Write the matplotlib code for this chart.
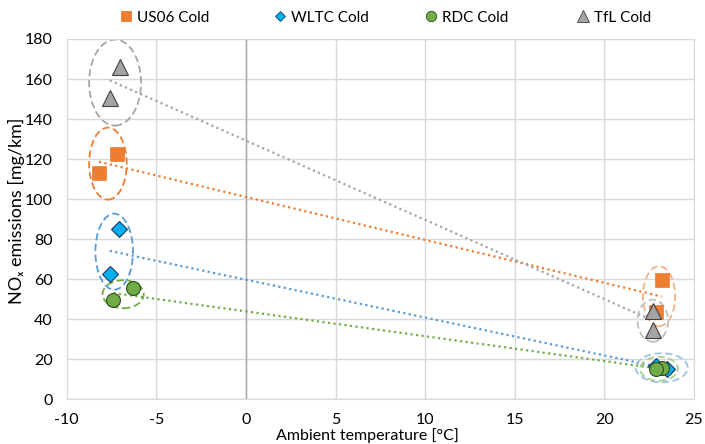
import numpy as np
import matplotlib
matplotlib.use("Agg")
import matplotlib.pyplot as plt
from matplotlib.patches import Ellipse

plt.rcParams['font.family'] = ['Lato', 'DejaVu Sans']
plt.rcParams['axes.unicode_minus'] = False

# Data: ambient temperature (°C) and NOx emissions (mg/km)
us06_t = [-7.2, -8.2, 23.2, 22.9]
us06_v = [122.5, 113.0, 59.5, 43.5]
wltc_t = [-7.1, -7.6, 23.5, 22.9]
wltc_v = [85.0, 62.5, 15.0, 16.5]
rdc_t = [-6.3, -7.4, 23.2, 22.9]
rdc_v = [55.5, 49.5, 15.5, 15.0]
tfl_t = [-7.0, -7.6, 22.7, 22.7]
tfl_v = [166.0, 150.5, 44.0, 34.5]

labels = ["US06 Cold", "WLTC Cold", "RDC Cold", "TfL Cold"]
x_ticks = [-10, -5, 0, 5, 10, 15, 20, 25]
y_ticks = [0, 20, 40, 60, 80, 100, 120, 140, 160, 180]

W, H = 705, 444
fig = plt.figure(figsize=(W / 100, H / 100), dpi=100)
ax = fig.add_axes([66.7 / W, 1 - 399.3 / H, (694 - 66.7) / W, (399.3 - 39) / H])

series = [
    (us06_t, us06_v, dict(marker='s', color='#ED7D31', ms=10, mec='#ED7D31', mew=0.5), '#ED7D31'),
    (wltc_t, wltc_v, dict(marker='D', color='#00B0F0', ms=8, mec='#1F3864', mew=0.8), '#5B9BD5'),
    (rdc_t, rdc_v, dict(marker='o', color='#70AD47', ms=10, mec='#2E4A1E', mew=0.8), '#70AD47'),
    (tfl_t, tfl_v, dict(marker='^', color='#A5A5A5', ms=11, mec='#404040', mew=0.8), '#A5A5A5'),
]

# ellipse sizes (width in °C, height in mg/km) for the cold and warm pair
ell_sizes = {
    0: [(2.1, 36), (1.8, 30)],
    1: [(2.1, 38), (2.9, 14.5)],
    2: [(2.3, 14), (2.1, 12)],
    3: [(2.9, 43), (1.7, 21)],
}
ell_colors = {0: ['#ED7D31', '#F4B183'], 1: ['#5B9BD5', '#9DC3E6'],
              2: ['#70AD47', '#A9D18E'], 3: ['#A5A5A5', '#BFBFBF']}

handles = []
for i, (t, v, mk, lc) in enumerate(series):
    t = np.array(t); v = np.array(v)
    p = np.polyfit(t, v, 1)
    xs = np.array([t.min(), t.max()])
    ax.plot(xs, np.polyval(p, xs), ls=(0, (1, 1.5)), lw=1.6, color=lc, zorder=2)
    for j, idx in enumerate([[0, 1], [2, 3]]):
        cx = t[idx].mean(); cy = v[idx].mean()
        w, h = ell_sizes[i][j]
        ax.add_patch(Ellipse((cx, cy), w, h, fill=False, ls=(0, (4, 2)), lw=1.3,
                             edgecolor=ell_colors[i][j], zorder=2))
    hh, = ax.plot(t, v, ls='none', zorder=4, **mk)
    handles.append(hh)

ax.set_xlim(-10, 25)
ax.set_ylim(0, 180)
ax.set_xticks(x_ticks)
ax.set_yticks(y_ticks)
ax.grid(True, color='#D9D9D9', lw=1)
ax.set_axisbelow(True)
ax.axvline(0, color='#A6A6A6', lw=1, zorder=1)
ax.axhline(0, color='#D9D9D9', lw=1, zorder=1)
for s in ax.spines.values():
    s.set_color('#D9D9D9')
ax.tick_params(axis='x', length=0, labelsize=11.5, pad=10)
ax.tick_params(axis='y', length=0, labelsize=11.5, pad=10)

ax.set_xlabel('Ambient temperature [°C]', fontsize=11.5, va='center')
ax.xaxis.set_label_coords((367.5 - 66.7) / (694 - 66.7), -(436 - 399.3) / (399.3 - 39))
ax.set_ylabel('NOₓ emissions [mg/km]', fontsize=13, va='center')
ax.yaxis.set_label_coords((16 - 66.7) / (694 - 66.7), (399.3 - 211) / (399.3 - 39))

# legend entries placed individually along the top
leg_x = [126, 280, 431, 583]
leg_ms = [7.5, 5.5, 7.5, 8]
fs = 11
hl = 0.8
for hh, lab, mx, ms, (t, v, mk, lc) in zip(handles, labels, leg_x, leg_ms, series):
    d = dict(mk); d['ms'] = ms; d['mew'] = 0.6
    lh = plt.Line2D([], [], ls='none', **d)
    x0 = mx - hl * fs * 100 / 72 / 2
    fig.legend([lh], [lab], loc='center left', bbox_to_anchor=(x0 / W, 1 - 17.7 / H),
               frameon=False, fontsize=fs, handlelength=hl, handletextpad=0.32,
               borderpad=0, borderaxespad=0)

fig.savefig('out.png', dpi=100)
